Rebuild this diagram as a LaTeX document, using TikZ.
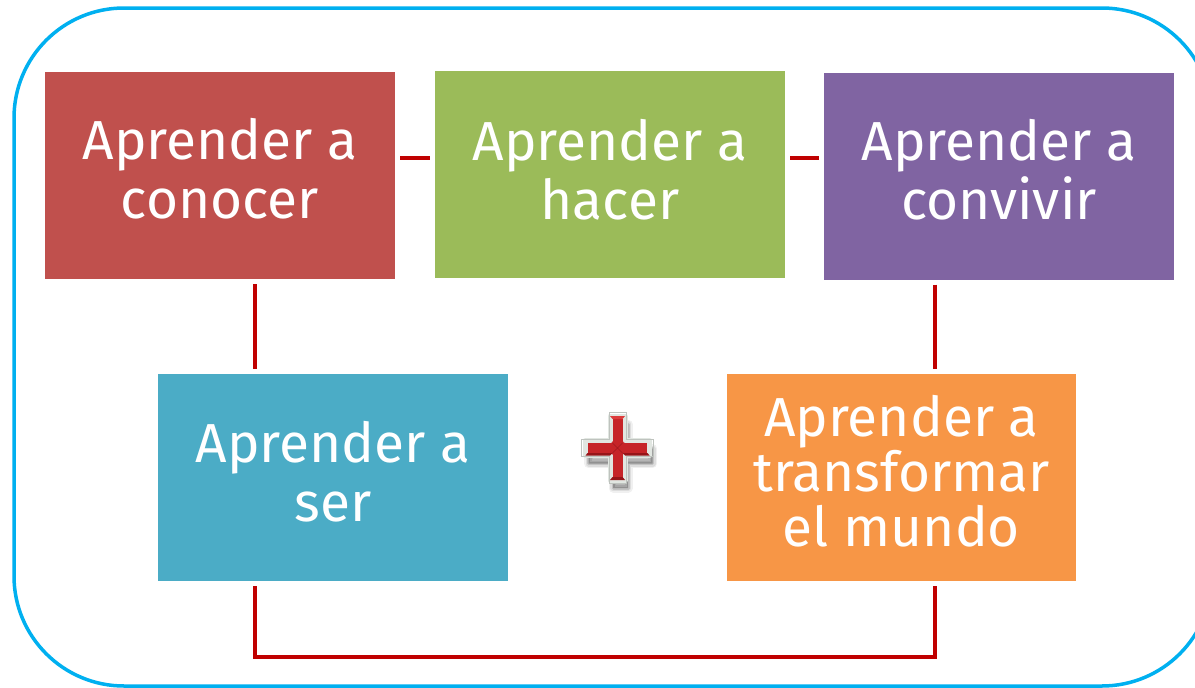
\documentclass[tikz,border=0pt]{standalone}
\usepackage{fontspec}
\setmainfont{Fira Sans}
\usetikzlibrary{calc}
\definecolor{cred}{HTML}{C0504D}
\definecolor{cgreen}{HTML}{9BBB59}
\definecolor{cpurple}{HTML}{8064A2}
\definecolor{cblue}{HTML}{4BACC6}
\definecolor{corange}{HTML}{F79646}
\definecolor{cline}{HTML}{C00000}
\definecolor{cborder}{HTML}{00B0F0}
\definecolor{cplus}{HTML}{C62428}
\definecolor{cplusdark}{RGB}{150,20,24}
\definecolor{cpluslight}{RGB}{220,60,60}
\definecolor{cplusmid}{RGB}{160,25,30}
\definecolor{crim}{RGB}{225,230,225}
\definecolor{crimedge}{RGB}{190,195,190}
\tikzset{
  box/.style={rectangle, draw=none, minimum width=350pt, minimum height=207pt, inner sep=0pt},
  txt/.style={text=white, align=center, inner sep=0pt,
    font=\fontsize{55}{59}\selectfont},
  conn/.style={draw=cline, line width=4pt, shorten >=5pt, shorten <=5pt},
}
\begin{document}
\begin{tikzpicture}[x=1pt,y=-1pt]
\useasboundingbox (0,0) rectangle (1195,688);
\fill[white] (0,0) rectangle (1195,688);
\draw[cborder, line width=3.5pt, rounded corners=110pt] (14,8) rectangle (1212,686);

\node[box, fill=cred] (red) at (220,175.5) {};
\node[box, fill=cgreen] (green) at (610,174) {};
\node[box, fill=cpurple] (purple) at (999,176) {};
\node[box, fill=cblue] (blue) at (333,477.5) {};
\node[box, fill=corange, minimum width=349pt] (orange) at (901.5,477.5) {};

\node[txt] (redt) at ([yshift=7pt]red.center) {Aprender a\\conocer};
\node[txt] (greent) at ([yshift=4pt]green.center) {Aprender a\\hacer};
\node[txt] (purplet) at ([yshift=6pt]purple.center) {Aprender a\\convivir};
\node[txt] (bluet) at ([yshift=6pt]blue.center) {Aprender a\\ser};
\node[txt, font=\fontsize{55}{55}\selectfont] (oranget) at ([yshift=6pt]orange.center) {Aprender a\\transformar\\el mundo};

\coordinate (hy) at (0,158);
\coordinate (vl) at (255,0);
\coordinate (vr) at (935,0);
\coordinate (by) at (0,657);

\draw[conn] (red.east |- hy) -- (green.west |- hy);
\draw[conn] (green.east |- hy) -- (purple.west |- hy);
\draw[conn] (red.south -| vl) -- (blue.north -| vl);
\draw[conn] (purple.south -| vr) -- (orange.north -| vr);
\draw[conn] (blue.south -| vl) -- (vl |- by) -- (vr |- by) -- (orange.south -| vr);

% plus sign
\def\crosspath{(-7.5,-32) -- (7.5,-32) -- (7.5,-7.5) -- (32,-7.5) -- (32,7.5) -- (7.5,7.5) -- (7.5,32) -- (-7.5,32) -- (-7.5,7.5) -- (-32,7.5) -- (-32,-7.5) -- (-7.5,-7.5) -- cycle}
\begin{scope}[shift={(617.5,448)}]
  \foreach \o/\w in {0.06/9, 0.08/6, 0.12/3}{
    \filldraw[black, opacity=\o, line width=\w pt, line join=round, shift={(3,8)}] \crosspath;
  }
  \draw[draw=crim, line width=5pt, line join=round, fill=cplus] \crosspath;
  \draw[draw=crimedge, line width=0.8pt, scale=1.12] \crosspath;
  \fill[cplusdark] (-7.5,7.5) -- (-32,7.5) -- (-30,5) -- (-5,5) -- cycle;
  \fill[cplusdark] (32,7.5) -- (7.5,7.5) -- (5,5) -- (30,5) -- cycle;
  \fill[cplusdark] (-7.5,32) -- (7.5,32) -- (5,29) -- (-5,29) -- cycle;
  \fill[cpluslight] (-7.5,-32) -- (7.5,-32) -- (5,-29) -- (-5,-29) -- cycle;
  \draw[cplusmid, line width=0.6pt] (-5,-5) -- (5,5) (5,-5) -- (-5,5);
\end{scope}
\end{tikzpicture}
\end{document}
